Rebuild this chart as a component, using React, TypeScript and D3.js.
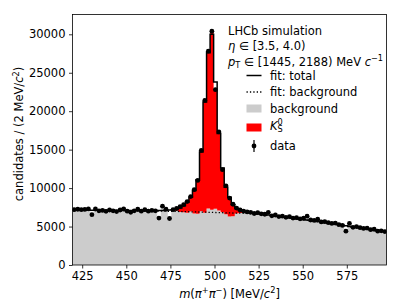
import { useEffect, useRef } from 'react'
import * as d3 from 'd3'

// binning: 2 MeV bins
const BIN_LO = 419.5
const BIN_WIDTH = 2
const X_DOMAIN: [number, number] = [419.5, 597.5]
const Y_MAX = 32575

const X_TICKS = [425, 450, 475, 500, 525, 550, 575]
const Y_TICKS = [0, 5000, 10000, 15000, 20000, 25000, 30000]

// simulated candidates per bin (background + signal stacked)
const dataCounts = [
  7200, 7250, 7200, 7230, 7300, 6550, 7280, 7050, 7100, 6980,
  7150, 7050, 6950, 7150, 7300, 7000, 6850, 7050, 7250, 7000,
  7200, 7000, 7100, 7050, 6100, 7650, 7250, 6050, 7200, 7350,
  7600, 7850, 8250, 8900, 9800, 11000, 14900, 21400, 27800, 30400,
  22800, 17300, 12400, 10300, 8700, 7900, 7400, 7150, 7000, 6900,
  6850, 6700, 6800, 6650, 6600, 6850, 6400, 6500, 6300, 6350,
  6200, 6300, 6100, 6150, 6000, 6100, 6350, 5850, 5800, 5950,
  5600, 5650, 5500, 5400, 5450, 5250, 5150, 4400, 5400, 4900,
  5000, 4850, 4750, 4800, 4600, 4650, 4400, 4450, 4350,
]

// K_S^0 part of the stack, starting at bin SIGNAL_FIRST_BIN
const SIGNAL_FIRST_BIN = 28
const signalCounts = [
  100, 300, 700, 1000, 1450, 1950, 3100, 4350, 7900, 14600,
  20450, 23200, 15500, 10200, 5550, 3700, 2400, 1550, 700, 400,
  200, 100, 50,
]

// fit: total, per bin
const fitTotal = [
  7160, 7155, 7150, 7145, 7140, 7135, 7130, 7125, 7120, 7115,
  7110, 7105, 7100, 7095, 7090, 7085, 7080, 7075, 7070, 7065,
  7060, 7060, 7060, 7065, 7075, 7090, 7110, 7140, 7190, 7270,
  7400, 7700, 8150, 8800, 9700, 11100, 14700, 21200, 27600, 30000,
  23800, 17100, 12600, 10100, 8800, 7850, 7350, 7100, 6980, 6900,
  6800, 6740, 6680, 6620, 6560, 6500, 6440, 6380, 6320, 6260,
  6200, 6140, 6080, 6020, 5960, 5900, 5840, 5780, 5720, 5650,
  5580, 5510, 5440, 5370, 5300, 5230, 5160, 5090, 5020, 4950,
  4880, 4810, 4740, 4670, 4600, 4530, 4460, 4390, 4320,
]

// fit: background, sampled along the mass axis
const bkgFitMass = [419.5, 440, 460, 480, 490, 500, 510, 520, 530, 540, 550, 560, 570, 580, 590, 597.5]
const bkgFitValue = [7120, 7080, 7030, 6960, 6900, 6830, 6760, 6700, 6450, 6180, 5880, 5580, 5250, 4900, 4560, 4300]

const GRAY = '#cccccc'
const RED = '#ff0000'
const FONT = 'DejaVu Sans, sans-serif'

export default function App() {
  const gRef = useRef<SVGGElement>(null)

  useEffect(() => {
    if (!gRef.current) return
    const left = 72.5, right = 386.5, top = 14.5, bottom = 265

    const g = d3.select(gRef.current)
    g.selectAll('*').remove()

    const x = d3.scaleLinear().domain(X_DOMAIN).range([left, right])
    const y = d3.scaleLinear().domain([0, Y_MAX]).range([bottom, top])

    const nBins = dataCounts.length
    const edge = (i: number) => BIN_LO + i * BIN_WIDTH
    const signalAt = (i: number) => {
      const j = i - SIGNAL_FIRST_BIN
      return j >= 0 && j < signalCounts.length ? signalCounts[j] : 0
    }
    const grayCounts = dataCounts.map((d, i) => d - signalAt(i))

    g.append('clipPath').attr('id', 'plot-clip')
      .append('rect').attr('x', left).attr('y', top).attr('width', right - left).attr('height', bottom - top)
    const plot = g.append('g').attr('clip-path', 'url(#plot-clip)')

    // background histogram
    const grayPts: [number, number][] = grayCounts.map((v, i) => [edge(i), v])
    grayPts.push([edge(nBins), grayCounts[nBins - 1]])
    plot.append('path')
      .attr('d', d3.area<[number, number]>()
        .curve(d3.curveStepAfter)
        .x(d => x(d[0])).y0(y(0)).y1(d => y(d[1]))(grayPts))
      .attr('fill', GRAY)

    // signal stacked on top
    const sigPts: [number, number, number][] = signalCounts.map((_, j) => {
      const i = SIGNAL_FIRST_BIN + j
      return [edge(i), grayCounts[i], dataCounts[i]]
    })
    const lastSig = SIGNAL_FIRST_BIN + signalCounts.length - 1
    sigPts.push([edge(lastSig + 1), grayCounts[lastSig], dataCounts[lastSig]])
    plot.append('path')
      .attr('d', d3.area<[number, number, number]>()
        .curve(d3.curveStepAfter)
        .x(d => x(d[0])).y0(d => y(d[1])).y1(d => y(d[2]))(sigPts))
      .attr('fill', RED)

    // fit: background (dotted)
    plot.append('path')
      .attr('d', d3.line<number>()
        .curve(d3.curveMonotoneX)
        .x((_, i) => x(bkgFitMass[i])).y(d => y(d))(bkgFitValue))
      .attr('fill', 'none')
      .attr('stroke', '#000')
      .attr('stroke-width', 1.3)
      .attr('stroke-dasharray', '1.3,2.1')

    // fit: total (step)
    const fitPts: [number, number][] = fitTotal.map((v, i) => [edge(i), v])
    fitPts.push([edge(nBins), fitTotal[nBins - 1]])
    plot.append('path')
      .attr('d', d3.line<[number, number]>()
        .curve(d3.curveStepAfter)
        .x(d => x(d[0])).y(d => y(d[1]))(fitPts))
      .attr('fill', 'none')
      .attr('stroke', '#000')
      .attr('stroke-width', 1.5)

    // data points
    const pts = plot.append('g')
    dataCounts.forEach((n, i) => {
      const cx = x(edge(i) + BIN_WIDTH / 2)
      const err = Math.sqrt(n)
      pts.append('line')
        .attr('x1', cx).attr('x2', cx)
        .attr('y1', y(n - err)).attr('y2', y(n + err))
        .attr('stroke', '#000').attr('stroke-width', 1.2)
      pts.append('circle')
        .attr('cx', cx).attr('cy', y(n)).attr('r', 2.4)
        .attr('fill', '#000')
    })

    // axes
    g.append('g')
      .attr('transform', `translate(0,${bottom})`)
      .call(d3.axisBottom(x).tickValues(X_TICKS).tickSize(3.5).tickPadding(3.5).tickFormat(d3.format('d')))
      .call(ax => ax.select('.domain').remove())
      .call(ax => ax.selectAll('.tick line').attr('stroke', '#000').attr('stroke-width', 0.8))
      .call(ax => ax.selectAll('.tick text').attr('fill', '#000').attr('font-size', '11.5px').attr('font-family', FONT))

    g.append('g')
      .attr('transform', `translate(${left},0)`)
      .call(d3.axisLeft(y).tickValues(Y_TICKS).tickSize(3.5).tickPadding(3.5).tickFormat(d3.format('d')))
      .call(ax => ax.select('.domain').remove())
      .call(ax => ax.selectAll('.tick line').attr('stroke', '#000').attr('stroke-width', 0.8))
      .call(ax => ax.selectAll('.tick text').attr('fill', '#000').attr('font-size', '11.5px').attr('font-family', FONT))

    // frame
    g.append('rect')
      .attr('x', left).attr('y', top)
      .attr('width', right - left).attr('height', bottom - top)
      .attr('fill', 'none').attr('stroke', '#000').attr('stroke-width', 0.8)

    // legend handles
    const lx0 = 246.5, lx1 = 261.5
    g.append('line').attr('x1', lx0).attr('x2', lx1).attr('y1', 75.5).attr('y2', 75.5)
      .attr('stroke', '#000').attr('stroke-width', 1.5)
    g.append('line').attr('x1', lx0).attr('x2', lx1).attr('y1', 92).attr('y2', 92)
      .attr('stroke', '#000').attr('stroke-width', 1.3).attr('stroke-dasharray', '1.3,2.1')
    g.append('rect').attr('x', lx0).attr('y', 104.5).attr('width', lx1 - lx0).attr('height', 8).attr('fill', GRAY)
    g.append('rect').attr('x', lx0).attr('y', 123.5).attr('width', lx1 - lx0).attr('height', 8).attr('fill', RED)
    g.append('line').attr('x1', 254).attr('x2', 254).attr('y1', 140).attr('y2', 152)
      .attr('stroke', '#000').attr('stroke-width', 1.2)
    g.append('circle').attr('cx', 254).attr('cy', 146).attr('r', 2.4).attr('fill', '#000')
  }, [])

  const txt = { fontFamily: FONT, fontSize: 11.5, fill: '#000' }
  const small = 8.2

  return (
    <svg width={407} height={305} style={{ position: 'absolute', left: 0, top: 0, background: '#fff' }}>
      <rect x={0} y={0} width={407} height={305} fill="#fff" />
      <g ref={gRef} />
      <g style={txt}>
        <text x={228} y={34.5}>LHCb simulation</text>
        <text x={228} y={50}>
          <tspan fontStyle="italic">η</tspan>
          <tspan> ∈ [3.5, 4.0)</tspan>
        </text>
        <text x={228} y={65.5}>
          <tspan fontStyle="italic">p</tspan>
          <tspan fontSize={small} dy={2.5}>T</tspan>
          <tspan dy={-2.5}> ∈ [1445, 2188) MeV </tspan>
          <tspan fontStyle="italic">c</tspan>
          <tspan fontSize={small} dy={-4.5}>−1</tspan>
        </text>
        <text x={270} y={79.5}>fit: total</text>
        <text x={270} y={96}>fit: background</text>
        <text x={270} y={112.5}>background</text>
        <text x={270} y={129.5}>
          <tspan fontStyle="italic">K</tspan>
          <tspan fontSize={small} dy={2.5}>S</tspan>
          <tspan fontSize={small} dx={-5.2} dy={-7.5}>0</tspan>
        </text>
        <text x={270} y={150}>data</text>

        <text x={229.5} y={297.5} textAnchor="middle">
          <tspan fontStyle="italic">m</tspan>
          <tspan>(</tspan>
          <tspan fontStyle="italic">π</tspan>
          <tspan fontSize={small} dy={-4.5}>+</tspan>
          <tspan fontStyle="italic" dy={4.5}>π</tspan>
          <tspan fontSize={small} dy={-4.5}>−</tspan>
          <tspan dy={4.5}>) [MeV/</tspan>
          <tspan fontStyle="italic">c</tspan>
          <tspan fontSize={small} dy={-4.5}>2</tspan>
          <tspan dy={4.5}>]</tspan>
        </text>

        <text transform="translate(23,134) rotate(-90)" textAnchor="middle">
          <tspan>candidates / (2 MeV/</tspan>
          <tspan fontStyle="italic">c</tspan>
          <tspan fontSize={small} dy={-4.5}>2</tspan>
          <tspan dy={4.5}>)</tspan>
        </text>
      </g>
    </svg>
  )
}
